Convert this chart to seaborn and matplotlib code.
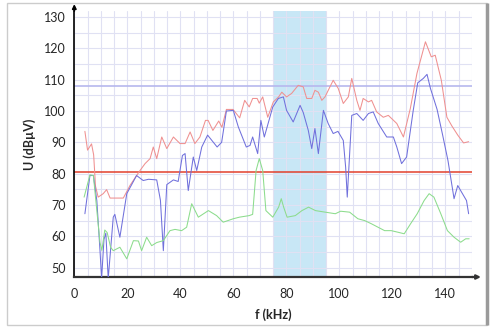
import seaborn as sns
import matplotlib.pyplot as plt
import pandas as pd
from matplotlib.patches import Rectangle

# peak spectrum (red)
peak_f = [4, 5, 6.5, 7.3, 8, 9, 10.9, 12.2, 13.5, 18.5, 21, 23.5, 24.8, 26.7, 28.6, 29.8,
          31.1, 33, 34.9, 37.4, 39.9, 41.8, 43.7, 45.5, 47.4, 49.5, 50.5, 52.3, 54.5, 55.7,
          57.4, 59.9, 62.4, 64.3, 66, 67.3, 69, 69.8, 71.1, 73, 75.1, 77.1, 78.3, 80.1, 82,
          84.5, 86.4, 87.7, 89.6, 90.8, 92.1, 93.4, 94.6, 97.7, 99.6, 101.5, 103.4, 104.7,
          106.6, 107.8, 109, 111, 112.2, 114.1, 116.6, 118.5, 121.7, 124.2, 126.8, 129.3,
          132.5, 134.7, 136.2, 138.5, 140.6, 142.5, 144.7, 146.9, 148.8]
peak_u = [93.5, 87.5, 89.5, 86, 76, 72.5, 73.6, 74.9, 72.2, 72.2, 76.2, 79.4, 81, 83.2, 84.8, 88.5,
          84.8, 91.7, 88, 91.7, 89.6, 89.6, 93.3, 89.6, 91.7, 97, 97, 93.8, 96.8, 94.8,
          100.5, 100.5, 97.8, 103.4, 101.3, 104, 104, 102.5, 104.5, 98, 102.9, 104.5, 106, 104.5, 105.6,
          108.2, 107.7, 104, 104, 106.6, 106, 103.4, 104.5, 109.8, 107.2, 102.4, 104.5, 110.4,
          103.4, 100.2, 104, 102.9, 103.4, 99.7, 98, 98.6, 96, 91.7, 100.8, 112,
          122.1, 117.3, 117.8, 109.8, 98, 95.2, 92.3, 89.8, 90.2]

# quasi-peak (blue)
qp_f = [4, 5.9, 7.2, 8.5, 9.7, 10.3, 11.2, 11.9, 12.8, 14.7, 15.3, 17.2, 19.8, 23.5, 26, 28,
        31.1, 32.5, 33.6, 34.9, 37.4, 39.2, 40.8, 41.8, 43, 44.9, 46.2, 48.1, 50.3, 53.9, 55.6,
        57.4, 60, 61.9, 64.9, 66.3, 67.3, 69.2, 70.4, 71.7, 74.9, 77, 78.9, 80.1, 82.6, 85.2,
        86.4, 88.3, 89.6, 90.8, 92.1, 94, 95.8, 97.7, 99.5, 101.5, 102.4, 103, 104.7, 106.6,
        109, 111, 112.8, 114.7, 117.9, 120.4, 121.7, 123.5, 125.4, 127.9, 129.6, 131.7, 133.1,
        134.4, 136.9, 139, 141, 142.4, 143.3, 144.7, 146.2, 148, 148.8]
qp_u = [67.2, 79.4, 79.4, 71.4, 55.4, 46.5, 59, 61, 46.5, 66.1, 67, 59.7, 73.6, 79.4, 77.8, 78.2,
        78, 71.5, 55.4, 76.5, 78, 77.5, 85.8, 86.4, 74.6, 85.3, 81, 88.5, 92.3, 88.5, 90,
        100, 100.2, 94.9, 88.5, 89, 91.7, 86.4, 97, 91.7, 101.3, 104, 104.5, 100.2, 96.5, 101.8,
        99.5, 93.8, 88, 94.4, 86.4, 100.2, 96, 92.8, 93.5, 90.6, 82, 72.5, 98.6, 99.2,
        97, 99.2, 99.7, 96, 91.7, 91.7, 88.5, 83.2, 85.3, 100.2, 109, 110.4, 111.7,
        107.2, 100.5, 92.3, 84.2, 76.8, 72, 76.2, 74, 71.4, 67.2]

# average (green)
avg_f = [3.7, 5.9, 7.2, 8.5, 9.7, 10.4, 11.5, 12.4, 13.7, 14.7, 17.2, 19.8, 22.3, 24.2, 25.4,
         27.3, 29.2, 31.1, 33.6, 36.1, 38, 40.5, 42.4, 44.3, 46.8, 50.6, 53.7, 56.2, 60, 62.3,
         66, 67.3, 68.6, 69.8, 71.1, 72.3, 74.9, 77.1, 78.1, 79, 80.3, 83.4, 85.9, 88.4, 91,
         94.7, 98.5, 100.5, 103.9, 107, 109.6, 112.1, 114.6, 117.1, 119.6, 122.1, 124.5, 126.9,
         129.4, 132, 133.9, 135.7, 138.3, 140.8, 143.3, 145.8, 147.7, 149]
avg_u = [72.5, 79.6, 79.4, 68.2, 58, 55.5, 62, 61.2, 56.5, 55.4, 56.5, 52.8, 58.6, 58.5, 55.4,
         59.7, 57, 58, 58.6, 61.8, 62.2, 61.8, 62.9, 70.4, 66.1, 68.2, 66.6, 64.5, 65.6, 66.1,
         66.6, 67, 81, 84.8, 81, 68.2, 66.1, 69.3, 72, 69.3, 66.1, 66.6, 68.2, 69.3, 68.2,
         67.7, 67.2, 68, 67.7, 65.6, 65, 64, 62.9, 61.8, 61.8, 61.3, 60.8, 64,
         67.2, 71.4, 73.6, 72.5, 67.2, 61.8, 59.7, 58.1, 59.2, 59.2]

limit_line = 80.5
upper_line = 108
band = (75, 95)

df = pd.concat([
    pd.DataFrame({"f": peak_f, "U": peak_u, "s": "peak"}),
    pd.DataFrame({"f": qp_f, "U": qp_u, "s": "qp"}),
    pd.DataFrame({"f": avg_f, "U": avg_u, "s": "avg"}),
])

sns.set_style("white")
plt.rcParams['font.family'] = ['Lato', 'DejaVu Sans']

fig = plt.figure(figsize=(4.97, 3.3), dpi=100)
ax = fig.add_axes([0.1495, 0.1606, 0.7998, 0.8068])

ax.axvspan(*band, color="#c8e7f6", zorder=0, lw=0)
ax.set_xticks(range(0, 151, 5), minor=True)
ax.set_yticks(range(50, 131, 5), minor=True)
ax.grid(which="both", color="#e0e1f3", lw=0.8, zorder=1)
ax.axhline(upper_line, color="#b6b8ee", lw=1.2, zorder=2)
ax.axhline(limit_line, color="#e2402c", lw=1.1, zorder=2)

sns.lineplot(data=df, x="f", y="U", hue="s", sort=False, estimator=None,
             palette={"peak": "#ef9090", "qp": "#7070dc", "avg": "#8cdc8c"},
             lw=0.75, legend=False, ax=ax, zorder=3)

ax.set_xlim(0, 150)
ax.set_ylim(47, 132)
ax.set_xticks(range(0, 141, 20))
ax.set_yticks(range(50, 131, 10))
ax.tick_params(axis="y", which="major", length=4, width=0.8, color="#333333", labelsize=9, pad=2)
ax.tick_params(axis="x", which="major", length=0, labelsize=9, pad=8)
ax.tick_params(which="minor", length=0)
for s in ["top", "right"]:
    ax.spines[s].set_visible(False)
ax.spines["left"].set_color("black")
ax.spines["left"].set_linewidth(1.2)
ax.spines["bottom"].set_color("#333333")
ax.spines["bottom"].set_linewidth(1.6)

# axis arrows
ax.annotate("", xy=(0, 135), xytext=(0, 131), annotation_clip=False,
            arrowprops=dict(arrowstyle="-|>", color="black", lw=1.2, mutation_scale=6))
ax.annotate("", xy=(154.5, 47), xytext=(149, 47), annotation_clip=False,
            arrowprops=dict(arrowstyle="-|>", color="#333333", lw=1.6, mutation_scale=6))

ax.set_xlabel("f (kHz)", fontsize=9, fontweight="bold", labelpad=6)
ax.set_ylabel("U (dBµV)", fontsize=9, fontweight="bold", labelpad=6)

# outer frame
fig.patches.append(Rectangle((7 / 497, 5 / 330), 480 / 497, 322 / 330, transform=fig.transFigure,
                             fill=False, edgecolor="#cccccc", lw=1))
fig.patches.append(Rectangle((487 / 497, 5 / 330), 0, 322 / 330, transform=fig.transFigure,
                             fill=False, edgecolor="#9a9a9a", lw=2.5))

plt.savefig("out.png", dpi=100)
